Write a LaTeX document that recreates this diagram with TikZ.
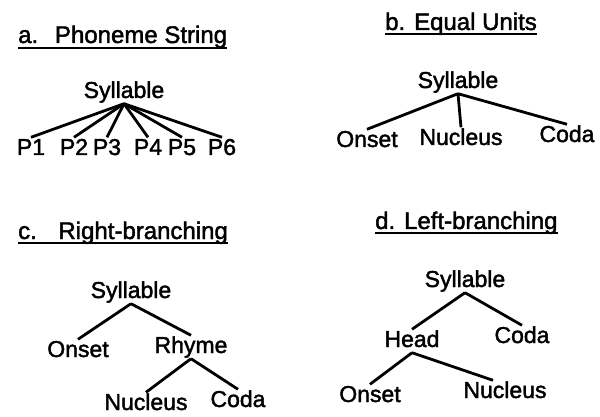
\documentclass[tikz,border=0pt]{standalone}
\usepackage{fontspec}
\setmainfont{Liberation Sans}
\newfontfamily\scanfont[FakeBold=1.8]{Liberation Sans}
\usetikzlibrary{calc}
\tikzset{
  lbl/.style={font=\scanfont\fontsize{23}{27}\selectfont, inner xsep=1pt, inner ysep=0.5pt, anchor=base, text height=17pt, text depth=5pt},
  ttl/.style={font=\scanfont\fontsize{24}{28}\selectfont, inner sep=0pt, anchor=base west},
  branch/.style={line width=2.8pt},
  uline/.style={line width=2pt}
}
\begin{document}
\begin{tikzpicture}[x=1pt,y=-1pt]
\useasboundingbox (0,0) rectangle (600,417);
% ---------- a ----------
\node[ttl] (ta) at (18,43) {a.\hspace{0.7em}Phoneme String};
\draw[uline] ([yshift=-5pt]ta.base west) -- ([yshift=-5pt]ta.base east);
\node[lbl] (as) at (124,98) {Syllable};
\node[lbl] (p1) at (31,155) {P1};
\node[lbl] (p2) at (74,155) {P2};
\node[lbl] (p3) at (107,155) {P3};
\node[lbl] (p4) at (148,155) {P4};
\node[lbl] (p5) at (182,155) {P5};
\node[lbl] (p6) at (222,155) {P6};
\foreach \p in {p1,p2,p3,p4,p5,p6} \draw[branch] (as.south) -- (\p.north);
% ---------- b ----------
\node[ttl] (tb) at (385,30) {b. Equal Units};
\draw[uline] ([yshift=-4pt]tb.base west) -- ([yshift=-4pt]tb.base east);
\node[lbl] (bs) at (458,88) {Syllable};
\node[lbl] (bo) at (367,147) {Onset};
\node[lbl] (bn) at (461,145) {Nucleus};
\node[lbl] (bc) at (567,142) {Coda};
\draw[branch] (bs.south) -- (bo.north);
\draw[branch] (bs.south) -- (bn.north);
\draw[branch] (bs.south) -- (bc.north);
% ---------- c ----------
\node[ttl] (tc) at (18,239) {c.\hspace{0.9em}Right-branching};
\draw[uline] ([yshift=-4pt]tc.base west) -- ([yshift=-4pt]tc.base east);
\node[lbl] (cs) at (131,298) {Syllable};
\node[lbl] (co) at (78,357) {Onset};
\node[lbl] (cr) at (191,353) {Rhyme};
\node[lbl] (cn) at (146,410) {Nucleus};
\node[lbl] (cc) at (238,407) {Coda};
\draw[branch] (cs.south) -- (co.north);
\draw[branch] (cs.south) -- (cr.north);
\draw[branch] (cr.south) -- (cn.north);
\draw[branch] (cr.south) -- (cc.north);
% ---------- d ----------
\node[ttl] (td) at (375,229) {d. Left-branching};
\draw[uline] ([yshift=-4pt]td.base west) -- ([yshift=-4pt]td.base east);
\node[lbl] (ds) at (465,287) {Syllable};
\node[lbl] (dh) at (412,347) {Head};
\node[lbl] (dc) at (522,343) {Coda};
\node[lbl] (do) at (370,402) {Onset};
\node[lbl] (dn) at (505,398) {Nucleus};
\draw[branch] (ds.south) -- (dh.north);
\draw[branch] (ds.south) -- (dc.north);
\draw[branch] (dh.south) -- (do.north);
\draw[branch] (dh.south) -- ($(dn.north)+(-12,0)$);
\end{tikzpicture}
\end{document}
